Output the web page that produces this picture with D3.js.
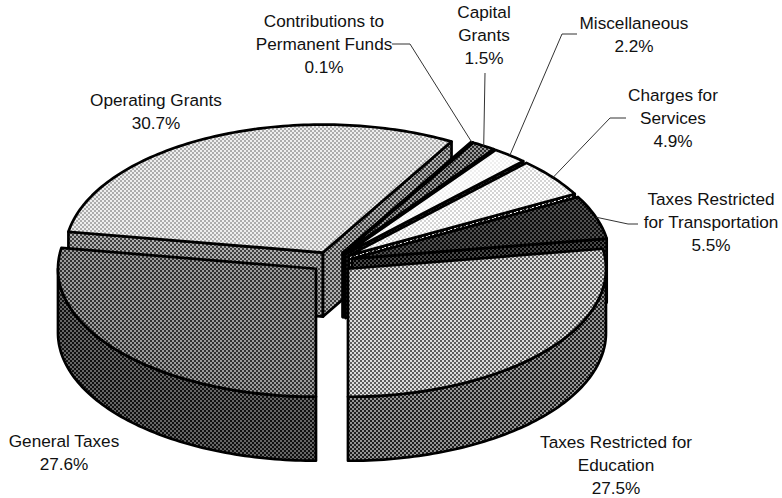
<!DOCTYPE html>
<html>
<head>
<meta charset="utf-8">
<style>
  html, body { margin: 0; padding: 0; background: #fff; }
  text { font-family: "Liberation Sans", Arial, sans-serif; font-size: 17.2px; fill: #111; text-anchor: middle; }
</style>
<script src="https://cdn.jsdelivr.net/npm/d3@7"></script>
</head>
<body>
<script>
// Values, clockwise from the bottom of the pie
const categories = ['General Taxes', 'Operating Grants', 'Contributions to Permanent Funds', 'Capital Grants',
  'Miscellaneous', 'Charges for Services', 'Taxes Restricted for Transportation', 'Taxes Restricted for Education'];
const shares = [27.6, 30.7, 0.1, 1.5, 2.2, 4.9, 5.5, 27.5];

// Label text, one entry per line
const labelLines = [
  ['General Taxes'], ['Operating Grants'], ['Contributions to', 'Permanent Funds'], ['Capital', 'Grants'],
  ['Miscellaneous'], ['Charges for', 'Services'], ['Taxes Restricted', 'for Transportation'], ['Taxes Restricted for', 'Education']
];

// Halftone colours [top a, top b, side a, side b]
const tones = [
  ['#303030', '#9c9c9c', '#101010', '#666666'],
  ['#eeeeee', '#acacac', '#404040', '#b0b0b0'],
  ['#000000', '#000000', '#000000', '#000000'],
  ['#2a2a2a', '#9a9a9a', '#000000', '#444444'],
  ['#ffffff', '#efefef', '#000000', '#555555'],
  ['#ffffff', '#d4d4d4', '#ffffff', '#111111'],
  ['#0c0c0c', '#505050', '#000000', '#484848'],
  ['#dcdcdc', '#5c5c5c', '#1e1e1e', '#949494']
];

// Where the labels sit
const labelX = [64, 156, 324, 484, 634, 673, 711, 616];
const labelY = [447, 106, 27, 18, 29, 101, 205, 447.5];
const lineGap = 23;
// Leader line bends, from the slice edge out to the label (empty = no leader)
const leaders = [
  [], [],
  [[410, 44], [392, 44]],
  [[485, 73]],
  [[562, 34], [577, 34]],
  [[610, 118], [626, 118]],
  [[628, 224], [638, 224]],
  []
];

const width = 782, height = 498;
const cx = 332, cy = 262;   // pie centre before explosion
const rx = 258, ry = 128, depth = 64;
const explode = 21;
const drawOrder = [1, 2, 3, 4, 5, 6, 7, 0];

const svg = d3.select('body').append('svg')
  .attr('width', width).attr('height', height)
  .style('display', 'block');

const defs = svg.append('defs');

function halftone(id, a, b) {
  const p = defs.append('pattern')
    .attr('id', id)
    .attr('patternUnits', 'userSpaceOnUse')
    .attr('width', 4).attr('height', 4);
  p.append('rect').attr('width', 4).attr('height', 4).attr('fill', a);
  p.append('rect').attr('width', 2).attr('height', 2).attr('fill', b);
  p.append('rect').attr('x', 2).attr('y', 2).attr('width', 2).attr('height', 2).attr('fill', b);
}

tones.forEach((t, i) => {
  halftone('top' + i, t[0], t[1]);
  halftone('side' + i, t[2], t[3]);
});

const arcs = d3.pie().sort(null).startAngle(0).endAngle(2 * Math.PI)(shares);
const line = d3.line();

// Exploded apex of a slice
function apex(d) {
  const mid = (d.startAngle + d.endAngle) / 2;
  return [cx - explode * Math.sin(mid), cy + explode * ry / rx * Math.cos(mid)];
}

// Point on the rim of a slice, dz pixels below the top face
function rim(d, a, dz) {
  const c = apex(d);
  return [c[0] - rx * Math.sin(a), c[1] + ry * Math.cos(a) + dz];
}

function rimPoints(d, a0, a1, dz) {
  const n = Math.max(2, Math.ceil((a1 - a0) / 0.02));
  return d3.range(n + 1).map(k => rim(d, a0 + (a1 - a0) * k / n, dz));
}

function face(g, pts, fill) {
  g.append('path')
    .attr('d', line(pts) + 'Z')
    .attr('fill', fill)
    .attr('stroke', '#000')
    .attr('stroke-width', 2.7)
    .attr('stroke-linejoin', 'round');
}

drawOrder.forEach(i => {
  const d = arcs[i];
  const g = svg.append('g').attr('class', 'slice');
  const c = apex(d);
  const side = 'url(#side' + i + ')';

  // Radial faces that look towards the viewer
  if (Math.sin(d.startAngle) > 0.001) {
    const p = rim(d, d.startAngle, 0);
    face(g, [c, p, [p[0], p[1] + depth], [c[0], c[1] + depth]], side);
  }
  if (Math.sin(d.endAngle) < -0.001) {
    const p = rim(d, d.endAngle, 0);
    face(g, [c, p, [p[0], p[1] + depth], [c[0], c[1] + depth]], side);
  }

  // Outer wall, only on the front half of the ellipse
  [[0, Math.PI / 2], [Math.PI * 1.5, Math.PI * 2]].forEach(r => {
    const a0 = Math.max(d.startAngle, r[0]), a1 = Math.min(d.endAngle, r[1]);
    if (a1 > a0) {
      face(g, rimPoints(d, a0, a1, 0).concat(rimPoints(d, a0, a1, depth).reverse()), side);
    }
  });

  // Top face
  face(g, [c].concat(rimPoints(d, d.startAngle, d.endAngle, 0)), 'url(#top' + i + ')');
});

// Leader lines
arcs.forEach((d, i) => {
  if (!leaders[i].length) return;
  const start = rim(d, (d.startAngle + d.endAngle) / 2, 0);
  svg.append('path')
    .attr('d', line([start].concat(leaders[i])))
    .attr('fill', 'none')
    .attr('stroke', '#333')
    .attr('stroke-width', 1);
});

// Labels
arcs.forEach((d, i) => {
  const t = svg.append('text').attr('x', labelX[i]).attr('y', labelY[i]);
  const rows = labelLines[i].concat([d.value.toFixed(1) + '%']);
  rows.forEach((s, k) => {
    t.append('tspan')
      .attr('x', labelX[i])
      .attr('y', labelY[i] + k * lineGap)
      .text(s);
  });
});
</script>
</body>
</html>
